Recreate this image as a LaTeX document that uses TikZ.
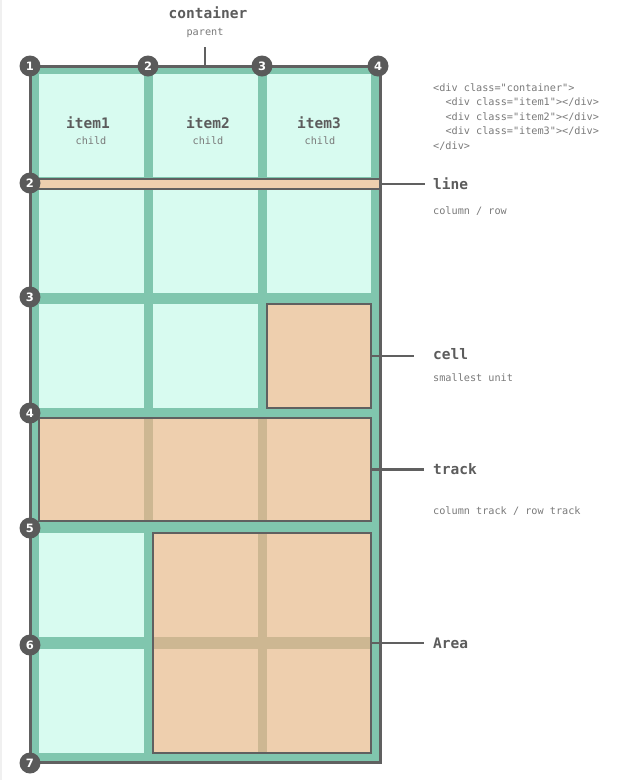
\documentclass[tikz,border=0pt]{standalone}
\usepackage{fontspec}
\setmonofont{DejaVu Sans Mono}
\setsansfont{DejaVu Sans}
\definecolor{gr}{HTML}{80C6AE}
\definecolor{mint}{HTML}{D8FBF0}
\definecolor{peach}{HTML}{EECFAE}
\definecolor{tanc}{HTML}{CDB792}
\definecolor{ol}{HTML}{606060}
\definecolor{dotc}{HTML}{5A5A5A}
\definecolor{tx}{HTML}{5C5C5C}
\definecolor{txs}{HTML}{7A7A7A}
\definecolor{edge}{HTML}{F0F0F0}
\begin{document}
\begin{tikzpicture}[x=1pt,y=-1pt,
  box/.style={draw=ol, line width=3pt, fill=gr, inner sep=0pt, outer sep=0pt},
  hlfill/.style={fill=peach, inner sep=0pt, outer sep=0pt},
  hlline/.style={draw=ol, line width=2.5pt},
  conn/.style={draw=ol, line width=2.5pt},
  num/.style={circle, fill=dotc, text=white, minimum size=21pt, inner sep=0pt,
    font=\sffamily\bfseries\fontsize{11.5}{11.5}\selectfont},
  lbl/.style={font=\ttfamily\bfseries\fontsize{14.5}{16}\selectfont, text=tx, inner sep=0pt},
  sub/.style={font=\ttfamily\fontsize{10.2}{12}\selectfont, text=txs, inner sep=0pt},
  rlbl/.style={lbl, anchor=west},
  rsub/.style={sub, anchor=west}]
\useasboundingbox (0,0) rectangle (629,780);
\fill[white] (0,0) rectangle (629,780);
\draw[edge, line width=1.5pt] (1,0) -- (1,780);

% container
\node[box, minimum width=350pt, minimum height=696pt] (box) at (205,414) {};
% cells
\foreach \xa/\xb in {39/144,153/258,267/371}{
  \foreach \ya/\yb in {74/177,190/293,304/408,418/521,533/637,649/753}{
    \fill[mint] (\xa,\ya) rectangle (\xb,\yb);
  }
}
% line bar
\node[hlfill, draw=ol, line width=2pt, minimum width=342pt, minimum height=10pt] (linebar) at (209,184) {};
% cell
\node[hlfill, minimum width=104pt, minimum height=104pt] (cellhl) at (319,356) {};
\draw[hlline] (cellhl.south west) rectangle (cellhl.north east);
% track
\node[hlfill, minimum width=332pt, minimum height=103pt] (trackhl) at (205,469.5) {};
\fill[tanc] (144,418) rectangle (153,521);
\fill[tanc] (258,418) rectangle (267,521);
\draw[hlline] (trackhl.south west) rectangle (trackhl.north east);
% area
\node[hlfill, minimum width=218pt, minimum height=220pt] (areahl) at (262,643) {};
\fill[tanc] (258,533) rectangle (267,753);
\fill[tanc] (153,637) rectangle (371,649);
\draw[hlline] (areahl.south west) rectangle (areahl.north east);
% container outline on top
\draw[draw=ol, line width=3pt] (box.south west) rectangle (box.north east);

% item labels
\node[lbl] (i1) at (88,123) {item1};
\node[sub] (c1t) at (91,141) {child};
\node[lbl] (i2) at (208,123) {item2};
\node[sub] (c2t) at (208,141) {child};
\node[lbl] (i3) at (319,123) {item3};
\node[sub] (c3t) at (320,141) {child};

% container label
\node[lbl] (contl) at (208,13) {container};
\node[sub] (par) at (205,33) {parent};
\coordinate (parbot) at (205,47);
\draw[conn] (parbot) -- (box.north);

% code
\node[sub, anchor=north west, align=left, font=\ttfamily\fontsize{10.2}{14.5}\selectfont] (code) at (433,83)
 {<div class="container">\\
  \hspace*{12.3pt}<div class="item1"></div>\\
  \hspace*{12.3pt}<div class="item2"></div>\\
  \hspace*{12.3pt}<div class="item3"></div>\\
  </div>};

% right labels
\node[rlbl] (linel) at (433,184) {line};
\node[rsub] (lines) at (433,211) {column / row};
\node[rlbl] (celll) at (433,354) {cell};
\node[rsub] (cells) at (433,378) {smallest unit};
\node[rlbl] (trackl) at (433,469) {track};
\node[rsub] (tracks) at (433,511) {column track / row track};
\node[rlbl] (areal) at (433,643) {Area};

\draw[conn, shorten >=8pt] (linebar.east) -- (linebar.east -| linel.west);
\draw[conn, shorten >=19pt] (cellhl.east) -- (cellhl.east -| celll.west);
\draw[conn, shorten >=9pt] (trackhl.east) -- (trackhl.east -| trackl.west);
\draw[conn, shorten >=9pt] (areahl.east) -- (areahl.east -| areal.west);

% numbered markers
\node[num] (n1) at (30,66) {1};
\node[num] (n2) at (148,66) {2};
\node[num] (n3) at (262,66) {3};
\node[num] (n4) at (378,66) {4};
\node[num] (r2) at (30,183) {2};
\node[num] (r3) at (30,297) {3};
\node[num] (r4) at (30,413) {4};
\node[num] (r5) at (30,528) {5};
\node[num] (r6) at (30,645) {6};
\node[num] (r7) at (30,763) {7};
\end{tikzpicture}
\end{document}
